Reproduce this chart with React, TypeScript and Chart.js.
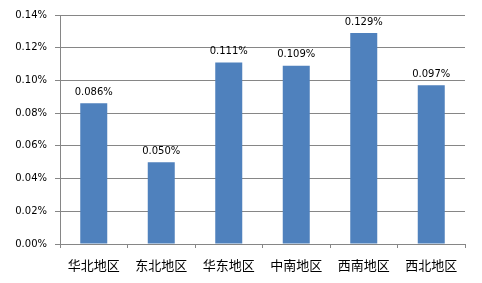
import React, { useEffect, useRef } from "react";
import { Chart, registerables } from "chart.js";

Chart.register(...registerables);

const categories = ["华北地区", "东北地区", "华东地区", "中南地区", "西南地区", "西北地区"];
const values = [0.086, 0.05, 0.111, 0.109, 0.129, 0.097];
const yTicks = [0, 0.02, 0.04, 0.06, 0.08, 0.1, 0.12, 0.14];

const labelPlugin = {
  id: "barLabels",
  afterDatasetsDraw(chart: any) {
    const ctx = chart.ctx;
    const meta = chart.getDatasetMeta(0);
    ctx.save();
    ctx.font = "10px 'DejaVu Sans'";
    ctx.fillStyle = "#000";
    ctx.textAlign = "center";
    ctx.textBaseline = "bottom";
    meta.data.forEach((bar: any, i: number) => {
      ctx.fillText(values[i].toFixed(3) + "%", bar.x, bar.y - 6);
    });
    ctx.restore();
  },
};

export default function App() {
  const ref = useRef<HTMLCanvasElement>(null);
  useEffect(() => {
    document.body.style.margin = "0";
    const chart = new Chart(ref.current!, {
      type: "bar",
      data: {
        labels: categories,
        datasets: [
          {
            data: values,
            backgroundColor: "#4F81BD",
            barPercentage: 0.4,
            categoryPercentage: 1,
          },
        ],
      },
      options: {
        animation: false,
        responsive: false,
        devicePixelRatio: 1,
        layout: { padding: { top: 15, right: 17, left: 0, bottom: 0 } },
        plugins: { legend: { display: false }, tooltip: { enabled: false } },
        scales: {
          x: {
            offset: true,
            grid: {
              offset: true,
              drawOnChartArea: false,
              drawTicks: true,
              tickLength: 4,
              color: "#868686",
            },
            border: { color: "#868686" },
            ticks: {
              color: "#000",
              font: { family: "'Noto Sans CJK SC'", size: 13 },
              padding: 9,
              maxRotation: 0,
            },
            afterFit(scale: any) {
              scale.height = 39;
            },
          },
          y: {
            min: 0,
            max: 0.14,
            afterBuildTicks(scale: any) {
              scale.ticks = yTicks.map((v) => ({ value: v }));
            },
            grid: { color: "#868686", tickLength: 5 },
            border: { color: "#868686" },
            ticks: {
              color: "#000",
              font: { family: "'DejaVu Sans'", size: 10 },
              padding: 8,
              callback: (v: any) => Number(v).toFixed(2) + "%",
            },
            afterFit(scale: any) {
              scale.width = 60;
            },
          },
        },
      },
      plugins: [labelPlugin],
    });
    return () => chart.destroy();
  }, []);
  return <canvas ref={ref} width={482} height={283} />;
}
